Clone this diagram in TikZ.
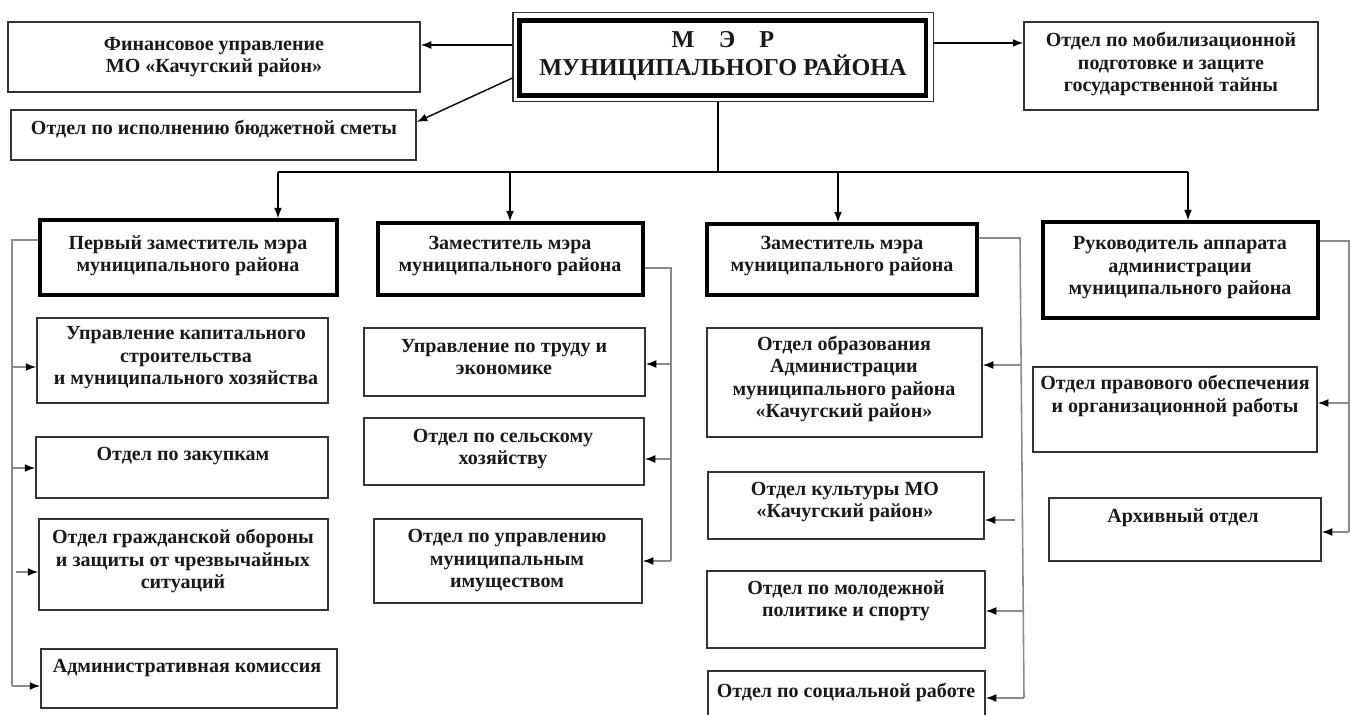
\documentclass[tikz,border=0pt]{standalone}
\usepackage{fontspec}
\setmainfont{Liberation Serif}
\usepackage{tikz}
\usetikzlibrary{arrows.meta, positioning, fit, calc}

\begin{document}
\begin{tikzpicture}[x=0.02cm, y=-0.02cm,
    % Base style for all boxes (drawn by fit, text set apart)
    unit/.style={draw=black!80, line width=0.8pt, inner sep=0pt},
    % Deputies
    deputy/.style={unit, draw=black, line width=1.9pt},
    % Mayor
    mayor/.style={unit, draw=black, line width=2.8pt},
    mayorframe/.style={unit, line width=0.6pt},
    % Texts
    txt/.style={font=\bfseries\fontsize{11.4}{12.8}\selectfont, align=center, inner sep=0pt, text=black!90},
    bigtxt/.style={txt, font=\bfseries\fontsize{13.8}{16.2}\selectfont},
    % Connectors
    bus/.style={draw=black, line width=1.1pt},
    arrow/.style={-{Latex[length=6pt, width=4.5pt]}, line width=0.8pt},
    subline/.style={draw=black!45, line width=0.9pt},
    subarrow/.style={subline, -{Latex[length=6pt, width=4.5pt, color=black]}}
]
\useasboundingbox (0,0) rectangle (1355,715);

% Mayor
\node[mayor, fit={(519.5,20.5) (926,95.5)}] (mer) {};
\node[mayorframe, fit={(513,12.5) (933.5,101.5)}] (merframe) {};
\node[bigtxt] (mertxt) at (723,56) {М\quad Э\quad Р\\МУНИЦИПАЛЬНОГО РАЙОНА};

% Top units
\node[unit, fit={(8,22) (420,92)}] (fin) {};
\node[txt] at (214,57) {Финансовое управление\\МО «Качугский район»};
\node[unit, fit={(11,110) (416,160)}] (smeta) {};
\node[txt] at (214,129) {Отдел по исполнению бюджетной сметы};
\node[unit, fit={(1024,22) (1318,110)}] (mob) {};
\node[txt] at (1171,64) {Отдел по мобилизационной\\подготовке и защите\\государственной тайны};

% Deputies
\node[deputy, fit={(40,220) (337,295)}] (perv) {};
\node[txt] at (188,256) {Первый заместитель мэра\\муниципального района};
\node[deputy, fit={(378,223) (643,295)}] (zamA) {};
\node[txt] at (510,256) {Заместитель мэра\\муниципального района};
\node[deputy, fit={(707,224) (977,295)}] (zamB) {};
\node[txt] at (842,256) {Заместитель мэра\\муниципального района};
\node[deputy, fit={(1043,222) (1318,318)}] (ruk) {};
\node[txt] at (1180,268) {Руководитель аппарата\\администрации\\муниципального района};

% Units of the first deputy
\node[unit, fit={(37,318) (328,403)}] (kap) {};
\node[txt] at (186,358) {Управление капитального\\строительства\\и муниципального хозяйства};
\node[unit, fit={(36,437) (328,498)}] (zak) {};
\node[txt] at (183,456) {Отдел по закупкам};
\node[unit, fit={(39,519) (328,610)}] (go) {};
\node[txt] at (183,561) {Отдел гражданской обороны\\и защиты от чрезвычайных\\ситуаций};
\node[unit, fit={(41,649) (337,708)}] (adm) {};
\node[txt] at (187,668) {Административная комиссия};

% Units of deputy A
\node[unit, fit={(364,328) (645,396)}] (trud) {};
\node[txt] at (504,357) {Управление по труду и\\экономике};
\node[unit, fit={(364,418) (644,485)}] (selh) {};
\node[txt] at (503,449) {Отдел по сельскому\\хозяйству};
\node[unit, fit={(374,519) (642,603)}] (imush) {};
\node[txt] at (507,561) {Отдел по управлению\\муниципальным\\имуществом};

% Units of deputy B
\node[unit, fit={(707,328) (982,437)}] (obr) {};
\node[txt] at (844,379) {Отдел образования\\Администрации\\муниципального района\\«Качугский район»};
\node[unit, fit={(708,472) (984,539)}] (kult) {};
\node[txt] at (845,502) {Отдел культуры МО\\«Качугский район»};
\node[unit, fit={(707,571) (985,648)}] (molod) {};
\node[txt] at (846,601) {Отдел по молодежной\\политике и спорту};
\node[unit, fit={(708,671) (985,730)}] (soc) {};
\node[txt] at (846,692) {Отдел по социальной работе};

% Units of the head of staff
\node[unit, fit={(1033,367) (1317,452)}] (prav) {};
\node[txt] at (1175,396) {Отдел правового обеспечения\\и организационной работы};
\node[unit, fit={(1049,498) (1321,561)}] (arh) {};
\node[txt] at (1183,518) {Архивный отдел};

% Arrows from the mayor
\draw[arrow] (merframe.west |- 0,45) -- (fin.east |- 0,45);
\draw[arrow] (merframe.west |- 0,78) -- (smeta.east |- 0,122);
\draw[arrow] (merframe.east |- 0,43) -- (mob.west |- 0,43);

% Main bus
\coordinate (busL) at (278,172);
\coordinate (busR) at (1188,172);
\draw[bus] (merframe.south -| 718,0) -- (718,172);
\draw[bus] (busL) -- (busR);
\draw[bus, arrow] (busL) -- (busL |- perv.north);
\draw[bus, arrow] (510,172) -- (510,0 |- zamA.north);
\draw[bus, arrow] (838,172) -- (838,0 |- zamB.north);
\draw[bus, arrow] (busR) -- (busR |- ruk.north);

% Trunk of the first deputy
\coordinate (lt) at (12,240);
\coordinate (lb) at (12,686);
\draw[subline] (perv.west |- lt) -- (lt) -- (lb);
\draw[subarrow] (lt |- 0,367) -- (kap.west |- 0,367);
\draw[subarrow] (lt |- 0,468) -- (zak.west |- 0,468);
\draw[subarrow] (16,572) -- (go.west |- 0,572);
\draw[subarrow] (lb) -- (adm.west |- lb);

% Trunk of deputy A
\coordinate (at) at (671,268);
\coordinate (ab) at (671,561);
\draw[subline] (zamA.east |- at) -- (at) -- (ab);
\draw[subarrow] (at |- 0,364) -- (trud.east |- 0,364);
\draw[subarrow] (at |- 0,459) -- (selh.east |- 0,459);
\draw[subarrow] (ab) -- (imush.east |- ab);

% Trunk of deputy B
\coordinate (bt) at (1020,238);
\coordinate (bb) at (1024,698);
\draw[subline] (zamB.east |- bt) -- (bt) -- (bb);
\draw[subarrow] (1021,365) -- (obr.east |- 0,365);
\draw[subarrow] (1015,520) -- (kult.east |- 0,520);
\draw[subarrow] (1023,611) -- (molod.east |- 0,611);
\draw[subarrow] (bb) -- (soc.east |- bb);

% Trunk of the head of staff
\coordinate (rt) at (1349,241);
\coordinate (rb) at (1349,532);
\draw[subline] (ruk.east |- rt) -- (rt) -- (rb);
\draw[subarrow] (rt |- 0,403) -- (prav.east |- 0,403);
\draw[subarrow] (rb) -- (arh.east |- rb);
\end{tikzpicture}
\end{document}
